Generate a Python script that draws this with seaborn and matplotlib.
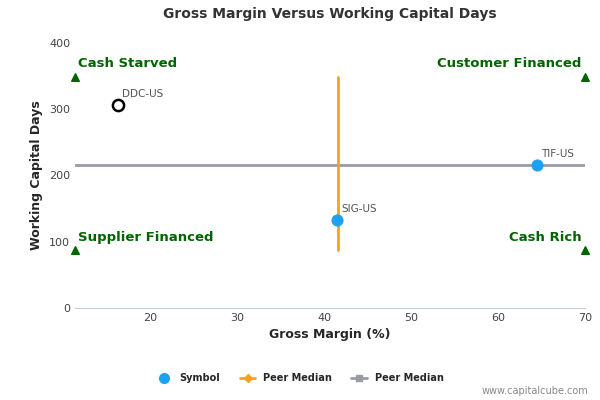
import matplotlib
matplotlib.use("Agg")
import matplotlib.pyplot as plt
import seaborn as sns
import pandas as pd
from matplotlib.lines import Line2D

symbols = ["DDC-US", "SIG-US", "TIF-US"]
gross_margin = [16.2, 41.5, 64.5]
wc_days = [306, 133, 215]
peer_median_x = 41.6
peer_median_y = 215
x_min, x_max = 11.3, 70
y_low, y_high = 87, 349
quad_labels = ["Cash Starved", "Customer Financed", "Supplier Financed", "Cash Rich"]

sns.set_style("white")
plt.rcParams['font.family'] = ['DejaVu Sans']
fig, ax = plt.subplots(figsize=(6, 4), dpi=100)
fig.subplots_adjust(left=0.125, right=0.975, top=0.893, bottom=0.23)

ax.plot([x_min, x_max], [peer_median_y]*2, color="#9a9ba5", lw=2, zorder=1)
ax.plot([peer_median_x]*2, [y_low, y_high], color="#f7a21b", lw=2, zorder=1)

df = pd.DataFrame({"x": gross_margin, "y": wc_days, "s": symbols})
sns.scatterplot(data=df.iloc[1:], x="x", y="y", color="#1da1f2", s=65, ax=ax, zorder=3, edgecolor="#1da1f2", legend=False)
ax.scatter(gross_margin[0], wc_days[0], s=65, facecolor="white", edgecolor="black", linewidth=1.8, zorder=3)
for x, y, s in zip(gross_margin, wc_days, symbols):
    ax.text(x + 0.5, y + 12, s, fontsize=7.5, color="#555555")

green = "#006400"
corners = [(x_min, y_high), (x_max, y_high), (x_min, y_low), (x_max, y_low)]
ax.scatter([c[0] for c in corners], [c[1] for c in corners], marker="^", color=green, s=30, zorder=3, clip_on=False)
fs = 9.5
ax.text(x_min + 0.4, y_high + 10, quad_labels[0], color=green, fontweight="bold", fontsize=fs, ha="left", va="bottom")
ax.text(x_max - 0.4, y_high + 10, quad_labels[1], color=green, fontweight="bold", fontsize=fs, ha="right", va="bottom")
ax.text(x_min + 0.4, y_low + 10, quad_labels[2], color=green, fontweight="bold", fontsize=fs, ha="left", va="bottom")
ax.text(x_max - 0.4, y_low + 10, quad_labels[3], color=green, fontweight="bold", fontsize=fs, ha="right", va="bottom")

ax.set_xlim(x_min, x_max)
ax.set_ylim(0, 400)
ax.set_xticks([20, 30, 40, 50, 60, 70])
ax.set_yticks([0, 100, 200, 300, 400])
ax.tick_params(labelsize=8, colors="#444444", length=0)
for sp in ["top", "right", "left"]:
    ax.spines[sp].set_visible(False)
ax.spines["bottom"].set_color("#c0d0e0")
ax.set_xlabel("Gross Margin (%)", fontweight="bold", fontsize=9)
ax.set_ylabel("Working Capital Days", fontweight="bold", fontsize=9)
ax.set_title("Gross Margin Versus Working Capital Days", fontweight="bold", fontsize=10, color="#333333", pad=18)

handles = [
    Line2D([], [], marker="o", color="#1da1f2", ls="", markersize=7),
    Line2D([], [], marker="D", color="#f7a21b", markersize=4, lw=2),
    Line2D([], [], marker="s", color="#9a9ba5", markersize=5, lw=2),
]
fig.legend(handles, ["Symbol", "Peer Median", "Peer Median"], loc="lower center", ncol=3,
           bbox_to_anchor=(0.5, 0.02), frameon=False, prop={"size": 7, "weight": "bold"}, handlelength=1.6)
fig.text(0.98, 0.01, "www.capitalcube.com", ha="right", va="bottom", fontsize=7, color="#888888")
fig.savefig("out.png", dpi=100)
